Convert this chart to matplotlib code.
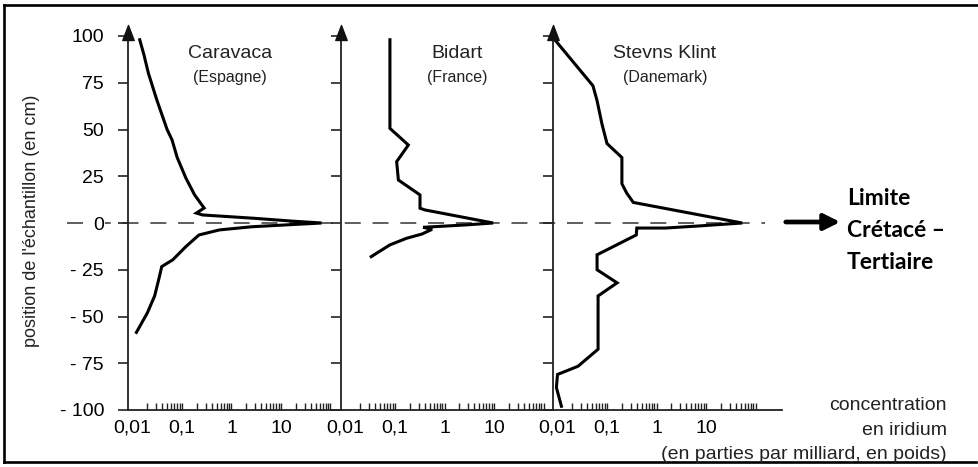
import matplotlib
matplotlib.use("Agg")
import matplotlib.pyplot as plt
from matplotlib.lines import Line2D
from matplotlib.path import Path
from matplotlib.ticker import FixedLocator, NullFormatter

# ---------------- data ----------------
sites = ["Caravaca", "Bidart", "Stevns Klint"]
countries = ["(Espagne)", "(France)", "(Danemark)"]

# position (cm) and iridium concentration (ppb)
caravaca_pos = [98, 90, 80, 65.8, 50, 44.4, 35, 24, 15, 8, 5.3, 4.3, 2.6, 1, 0,
                -1, -2, -3.7, -6.4, -12.6, -19.7, -23.3, -30, -39, -48, -58.5]
caravaca_ir = [0.014, 0.017, 0.021, 0.031, 0.050, 0.063, 0.080, 0.12, 0.18, 0.28, 0.195,
               0.26, 2.6, 17, 66, 13, 2.6, 0.57, 0.22, 0.12, 0.065, 0.039, 0.034,
               0.028, 0.020, 0.012]

bidart_pos = [98, 50.6, 41.7, 32.8, 23, 15, 7.9, 7, 0, -1, -2.3, -3.4, -5.9,
              -8.2, -11.7, -18]
bidart_ir = [0.079, 0.079, 0.186, 0.108, 0.117, 0.32, 0.32, 0.40, 9.6, 2.8,
             0.37, 0.56, 0.35, 0.17, 0.079, 0.033]

stevns_pos = [98.5, 73.4, 65.4, 53, 42.5, 35, 21, 16, 11, 0, -1.6, -2.7, -2.7,
              -6.4, -17, -25, -32, -39, -67.5, -76.6, -81, -88, -98]
stevns_ir = [0.0085, 0.052, 0.063, 0.079, 0.10, 0.20, 0.20, 0.25, 0.34, 54, 7,
             1.5, 0.4, 0.39, 0.063, 0.063, 0.16, 0.066, 0.066, 0.026, 0.010,
             0.0095, 0.012]

y_ticks = [100, 75, 50, 25, 0, -25, -50, -75, -100]
y_tick_labels = ["100", "75", "50", "25", "0", "- 25", "- 50", "- 75", "- 100"]
x_major = [0.01, 0.1, 1, 10, 100]
x_major_labels = ["0,01", "0,1", "1", "10", ""]

series_pos = [caravaca_pos, bidart_pos, stevns_pos]
series_ir = [caravaca_ir, bidart_ir, stevns_ir]

# ---------------- layout ----------------
W, H = 979, 467
plt.rcParams["font.family"] = ["Liberation Sans", "DejaVu Sans"]
plt.rcParams["lines.scale_dashes"] = False

fig = plt.figure(figsize=(W / 100, H / 100), dpi=100)


def fx(px):
    return px / W


def fy(py):
    return 1 - py / H


DEC = 49.5          # pixels per decade
Y0, YS = 223, 1.87  # pixel of y=0, pixels per cm
YMIN, YMAX = -100, 106
bottom_px = Y0 - YMIN * YS
top_px = Y0 - YMAX * YS
panel_left = [128, 341, 553]
panel_width = [213, 212, 229]
lo = -2 - 4.5 / DEC

arrow_marker = Path([(0, 1), (-0.38, 0), (0.38, 0), (0, 1)],
                    [Path.MOVETO, Path.LINETO, Path.LINETO, Path.CLOSEPOLY])

minor = [k * 10.0 ** d for d in range(-2, 2) for k in range(2, 10)]

for i in range(3):
    L, w = panel_left[i], panel_width[i]
    ax = fig.add_axes([fx(L), fy(bottom_px), w / W, (bottom_px - top_px) / H])
    ax.patch.set_visible(False)
    ax.set_xscale("log")
    ax.set_xlim(10 ** lo, 10 ** (lo + w / DEC))
    ax.set_ylim(YMIN, YMAX)
    ax.plot(series_ir[i], series_pos[i], color="black", lw=2.2,
            solid_joinstyle="miter", clip_on=False, zorder=3)
    for s in ["top", "right"]:
        ax.spines[s].set_visible(False)
    ax.spines["left"].set_bounds(-100, 100)
    for s in ["left", "bottom"]:
        ax.spines[s].set_linewidth(1.3)
        ax.spines[s].set_color("#222222")
    # arrow head on the y axis
    ax.plot([10 ** lo], [97.9], marker=arrow_marker, ms=21.6, color="#111111",
            clip_on=False, zorder=4)
    ax.set_yticks(y_ticks)
    if i == 0:
        ax.set_yticklabels(y_tick_labels)
    else:
        ax.set_yticklabels([])
    ax.tick_params(axis="y", direction="out", length=7.2, width=1.2,
                   color="#222222", pad=10, labelsize=14)
    ax.xaxis.set_major_locator(FixedLocator(x_major))
    ax.xaxis.set_minor_locator(FixedLocator(minor))
    ax.xaxis.set_minor_formatter(NullFormatter())
    ax.set_xticklabels(x_major_labels)
    ax.tick_params(axis="x", which="both", direction="in", length=5, width=1,
                   color="#222222", pad=7, labelsize=14)
    ax.xaxis.get_major_ticks()[0].tick1line.set_visible(False)
    if i == 0:
        for lab in ax.get_yticklabels():
            if lab.get_text() == "0":
                lab.set_bbox(dict(facecolor="white", edgecolor="none", pad=1))

# zero (K-T) dashed line
fig.add_artist(Line2D([fx(67), fx(765)], [fy(Y0), fy(Y0)], color="#333333",
                      lw=1.1, dashes=(11.5, 8.5), zorder=-1))

# titles
title_cx = [230, 457, 665]
for i in range(3):
    fig.text(fx(title_cx[i]), fy(58), sites[i], ha="center", va="baseline",
             fontsize=14, color="#222222")
    fig.text(fx(title_cx[i]), fy(82), countries[i], ha="center", va="baseline",
             fontsize=11.5, color="#222222")

fig.text(fx(32), fy(221), "position de l'échantillon (en cm)", rotation=90,
         ha="center", va="center", fontsize=13, color="#222222")

fig.text(fx(947), fy(410), "concentration", ha="right", va="baseline",
         fontsize=14, color="#222222")
fig.text(fx(947), fy(435), "en iridium", ha="right", va="baseline",
         fontsize=14, color="#222222")
fig.text(fx(947), fy(459), "(en parties par milliard, en poids)", ha="right",
         va="baseline", fontsize=14, color="#222222")

# arrow and K-T label
fig.add_artist(matplotlib.patches.FancyArrowPatch(
    (fx(783), fy(222)), (fx(843), fy(222)), transform=fig.transFigure,
    arrowstyle="-|>", mutation_scale=24, lw=3.4, color="black"))
bold_lines = ["Limite", "Crétacé –", "Tertiaire"]
bold_base = [205, 237, 269]
for t, b in zip(bold_lines, bold_base):
    fig.text(fx(847), fy(b), t, ha="left", va="baseline", fontsize=16.5,
             fontweight="bold", family=["Lato", "DejaVu Sans"], color="black")

# outer frame
fr = dict(color="black", lw=1.9, transform=fig.transFigure)
fig.add_artist(Line2D([fx(4), 1], [fy(5), fy(5)], **fr))
fig.add_artist(Line2D([fx(4), fx(4)], [fy(5), fy(462)], **fr))
fig.add_artist(Line2D([fx(4), fx(976)], [fy(462), fy(462)], **fr))

fig.savefig("out.png", dpi=100)
